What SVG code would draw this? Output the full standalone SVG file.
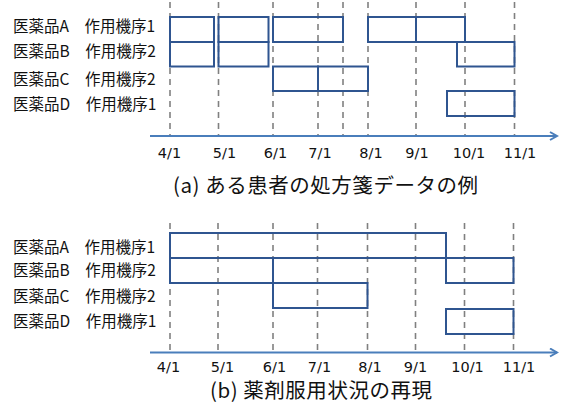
<svg xmlns="http://www.w3.org/2000/svg" width="561" height="410" viewBox="0 0 561 410">
<style>
.lbl{font-family:"Noto Sans CJK JP","Noto Sans",sans-serif;font-size:15.5px;fill:#111}
.mon{font-family:"DejaVu Sans",sans-serif;font-size:14.5px;fill:#111;text-anchor:middle}
.cap{font-family:"Noto Sans CJK JP","Noto Sans",sans-serif;font-size:20.5px;fill:#111}
.grid line{stroke:#808080;stroke-width:1.6;stroke-dasharray:6 5}
.bar{fill:none;stroke:#2f5590;stroke-width:2}
.axis{stroke:#4a7ebb;stroke-width:2;fill:none}
</style>
<defs>
<marker id="arr" markerWidth="10" markerHeight="10" refX="8" refY="5" orient="auto" markerUnits="userSpaceOnUse">
<path d="M1,1 L8,5 L1,9" fill="none" stroke="#4a7ebb" stroke-width="2"/>
</marker>
</defs>

<!-- Panel (a) -->
<g id="panel-a-labels">
<text class="lbl" x="13" y="31.5">医薬品A　作用機序1</text>
<text class="lbl" x="13" y="57">医薬品B　作用機序2</text>
<text class="lbl" x="13" y="84.5">医薬品C　作用機序2</text>
<text class="lbl" x="13" y="109.5">医薬品D　作用機序1</text>
</g>
<g id="panel-a-grid" class="grid">
<line x1="170" y1="2" x2="170" y2="136"/>
<line x1="218.5" y1="2" x2="218.5" y2="136"/>
<line x1="273" y1="2" x2="273" y2="136"/>
<line x1="318" y1="2" x2="318" y2="136"/>
<line x1="343" y1="2" x2="343" y2="136"/>
<line x1="368" y1="2" x2="368" y2="136"/>
<line x1="416" y1="2" x2="416" y2="136"/>
<line x1="465" y1="2" x2="465" y2="136"/>
<line x1="514.5" y1="2" x2="514.5" y2="136"/>
</g>
<g id="panel-a-bars">
<rect class="bar" x="170" y="17" width="44" height="25"/>
<rect class="bar" x="218.5" y="17" width="50" height="25"/>
<rect class="bar" x="273" y="17" width="70" height="25"/>
<rect class="bar" x="368" y="17" width="48" height="25"/>
<rect class="bar" x="416" y="17" width="49" height="25"/>
<rect class="bar" x="170" y="42" width="44" height="24.5"/>
<rect class="bar" x="218.5" y="42" width="50" height="24.5"/>
<rect class="bar" x="457" y="42" width="57.5" height="24.5"/>
<rect class="bar" x="273" y="66.5" width="45" height="24.5"/>
<rect class="bar" x="318" y="66.5" width="50" height="24.5"/>
<rect class="bar" x="447" y="91" width="67.5" height="25"/>
</g>
<g id="panel-a-axis">
<line class="axis" x1="150" y1="136" x2="557" y2="136" marker-end="url(#arr)"/>
<text class="mon" x="169.5" y="158">4/1</text>
<text class="mon" x="224.5" y="158">5/1</text>
<text class="mon" x="275.5" y="158">6/1</text>
<text class="mon" x="320" y="158">7/1</text>
<text class="mon" x="371" y="158">8/1</text>
<text class="mon" x="417" y="158">9/1</text>
<text class="mon" x="469" y="158">10/1</text>
<text class="mon" x="520" y="158">11/1</text>
<text class="cap" x="173" y="193" textLength="305" lengthAdjust="spacing">(a) ある患者の処方箋データの例</text>
</g>

<!-- Panel (b) -->
<g id="panel-b-labels">
<text class="lbl" x="13" y="253">医薬品A　作用機序1</text>
<text class="lbl" x="13" y="275.5">医薬品B　作用機序2</text>
<text class="lbl" x="13" y="301.5">医薬品C　作用機序2</text>
<text class="lbl" x="13" y="326.5">医薬品D　作用機序1</text>
</g>
<g id="panel-b-grid" class="grid">
<line x1="170" y1="223" x2="170" y2="352.5"/>
<line x1="218" y1="223" x2="218" y2="352.5"/>
<line x1="273" y1="223" x2="273" y2="352.5"/>
<line x1="317.5" y1="223" x2="317.5" y2="352.5"/>
<line x1="367.5" y1="223" x2="367.5" y2="352.5"/>
<line x1="415.5" y1="223" x2="415.5" y2="352.5"/>
<line x1="464.5" y1="223" x2="464.5" y2="352.5"/>
<line x1="513.5" y1="223" x2="513.5" y2="352.5"/>
</g>
<g id="panel-b-bars">
<rect class="bar" x="170" y="233" width="276" height="25"/>
<rect class="bar" x="170" y="258" width="103" height="25"/>
<rect class="bar" x="446" y="258" width="67.5" height="25"/>
<rect class="bar" x="273" y="283" width="94.5" height="25"/>
<rect class="bar" x="446" y="309" width="67.5" height="25"/>
</g>
<g id="panel-b-axis">
<line class="axis" x1="150" y1="352.5" x2="557" y2="352.5" marker-end="url(#arr)"/>
<text class="mon" x="168.5" y="372">4/1</text>
<text class="mon" x="222.5" y="372">5/1</text>
<text class="mon" x="274.5" y="372">6/1</text>
<text class="mon" x="319.5" y="372">7/1</text>
<text class="mon" x="370" y="372">8/1</text>
<text class="mon" x="415.5" y="372">9/1</text>
<text class="mon" x="467.5" y="372">10/1</text>
<text class="mon" x="519" y="372">11/1</text>
<text class="cap" x="210" y="398" textLength="222" lengthAdjust="spacing">(b) 薬剤服用状況の再現</text>
</g>
</svg>
